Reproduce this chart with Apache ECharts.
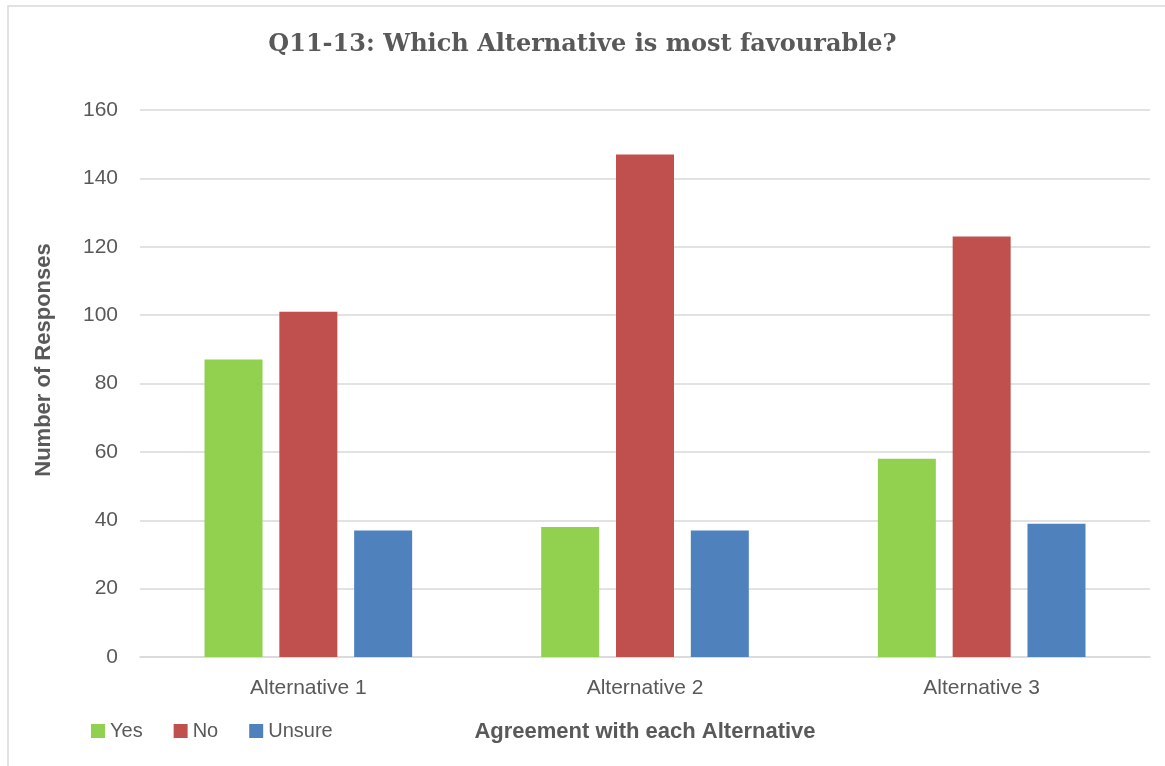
<!DOCTYPE html>
<html>
<head>
<meta charset="utf-8">
<script src="https://cdn.jsdelivr.net/npm/echarts@6/dist/echarts.min.js"></script>
<style>
  html, body { margin: 0; padding: 0; background: #fff; }
  #chart { width: 1165px; height: 766px; }
</style>
</head>
<body>
<div id="chart"></div>
<script>
// Survey responses per alternative
const categories = ['Alternative 1', 'Alternative 2', 'Alternative 3'];
const yesValues = [87, 38, 58];
const noValues = [101, 147, 123];
const unsureValues = [37, 37, 39];
const seriesNames = ['Yes', 'No', 'Unsure'];
const seriesColors = ['#92D050', '#C0504D', '#4F81BD'];

const textColor = '#595959';
const gridColor = '#D9D9D9';
const bodyFont = '"Liberation Sans", Arial, sans-serif';

const chart = echarts.init(document.getElementById('chart'), null, { renderer: 'canvas' });

const values = [yesValues, noValues, unsureValues];

chart.setOption({
  animation: false,
  backgroundColor: '#fff',
  title: {
    text: 'Q11-13: Which Alternative is most favourable?',
    left: 'center',
    top: 28,
    textStyle: {
      fontFamily: '"DejaVu Serif", serif',
      fontWeight: 'bold',
      fontSize: 24,
      color: textColor
    }
  },
  legend: {
    left: 86,
    top: 716,
    itemWidth: 14,
    itemHeight: 14,
    itemGap: 31,
    icon: 'rect',
    textStyle: { fontFamily: bodyFont, fontSize: 20, color: textColor },
    data: seriesNames
  },
  grid: { left: 140, right: 15, top: 110, bottom: 109, containLabel: false },
  xAxis: {
    type: 'category',
    data: categories,
    name: 'Agreement with each Alternative',
    nameLocation: 'middle',
    nameGap: 64,
    nameTextStyle: { fontFamily: bodyFont, fontWeight: 'bold', fontSize: 22, color: textColor },
    axisLine: { lineStyle: { color: gridColor, width: 1.5 } },
    axisTick: { show: false },
    axisLabel: { fontFamily: bodyFont, fontSize: 21, color: textColor, margin: 21 }
  },
  yAxis: {
    type: 'value',
    min: 0,
    max: 160,
    interval: 20,
    axisLine: { show: false },
    axisTick: { show: false },
    splitLine: { lineStyle: { color: gridColor, width: 1.5 } },
    axisLabel: { fontFamily: bodyFont, fontSize: 21, color: textColor, margin: 22 }
  },
  graphic: [
    {
      type: 'rect',
      shape: { x: 8, y: 6, width: 1170, height: 800 },
      style: { fill: 'none', stroke: gridColor, lineWidth: 1.5 },
      silent: true,
      z: -1
    },
    {
      type: 'text',
      x: 44,
      y: 360,
      rotation: Math.PI / 2,
      style: {
        text: 'Number of Responses',
        fontFamily: bodyFont,
        fontWeight: 'bold',
        fontSize: 22,
        fill: textColor,
        align: 'center',
        verticalAlign: 'middle'
      }
    }
  ],
  series: seriesNames.map((name, i) => ({
    name: name,
    type: 'bar',
    data: values[i],
    barWidth: 58,
    barGap: '29%',
    itemStyle: { color: seriesColors[i] }
  }))
});
</script>
</body>
</html>
